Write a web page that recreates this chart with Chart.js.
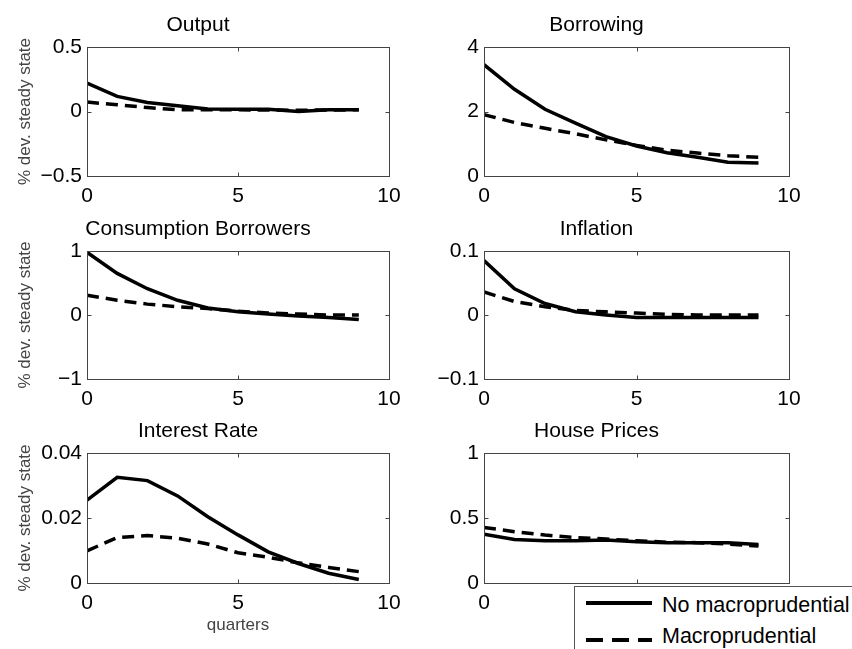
<!DOCTYPE html>
<html>
<head>
<meta charset="utf-8">
<script src="https://cdn.jsdelivr.net/npm/chart.js@4.4.0/dist/chart.umd.min.js"></script>
<style>
  body { margin: 0; background: #fff; width: 852px; height: 649px; overflow: hidden; position: relative;
         font-family: "Liberation Sans", Arial, sans-serif; }
  .panel { position: absolute; }
  #legend { position: absolute; left: 574px; top: 586px; width: 320px; height: 90px; background: #fff;
            border: 1px solid #555; z-index: 5; }
  #legend .sample { position: absolute; left: 11px; width: 66px; height: 4px; }
  #legend .solid { top: 14px; background: #000; }
  #legend .dashed { top: 51px; background: repeating-linear-gradient(to right, #000 0 17px, transparent 17px 26px); }
  #legend .txt { position: absolute; left: 87px; font-size: 21.5px; line-height: 22px; color: #000; white-space: nowrap; }
</style>
</head>
<body>
<div class="panel" style="left:7px;top:2px;width:412px;height:229px"><canvas id="outputChart"></canvas></div>
<div class="panel" style="left:404px;top:2px;width:415px;height:229px"><canvas id="borrowingChart"></canvas></div>
<div class="panel" style="left:7px;top:206px;width:412px;height:228px"><canvas id="consumptionChart"></canvas></div>
<div class="panel" style="left:404px;top:206px;width:415px;height:228px"><canvas id="inflationChart"></canvas></div>
<div class="panel" style="left:7px;top:408px;width:412px;height:230px"><canvas id="interestChart"></canvas></div>
<div class="panel" style="left:404px;top:408px;width:415px;height:230px"><canvas id="houseChart"></canvas></div>
<div id="legend">
  <div class="sample solid"></div><span class="txt" style="top:7px">No macroprudential</span>
  <div class="sample dashed"></div><span class="txt" style="top:38px">Macroprudential</span>
</div>
<script>
const quarters = [0, 1, 2, 3, 4, 5, 6, 7, 8, 9];
const xTicks = [0, 5, 10];

const outputNoMacro = [0.22, 0.117, 0.07, 0.044, 0.02, 0.018, 0.018, 0.0, 0.013, 0.013];
const outputMacro = [0.073, 0.052, 0.031, 0.013, 0.013, 0.013, 0.012, 0.01, 0.012, 0.013];
const outputTicks = [-0.5, 0, 0.5];

const borrowingNoMacro = [3.45, 2.69, 2.07, 1.64, 1.22, 0.93, 0.72, 0.58, 0.43, 0.4];
const borrowingMacro = [1.9, 1.66, 1.48, 1.31, 1.12, 0.95, 0.8, 0.71, 0.63, 0.58];
const borrowingTicks = [0, 2, 4];

const consumptionNoMacro = [0.98, 0.65, 0.41, 0.23, 0.11, 0.05, 0.015, -0.015, -0.04, -0.07];
const consumptionMacro = [0.31, 0.23, 0.17, 0.13, 0.1, 0.06, 0.03, 0.015, 0.0, 0.0];
const consumptionTicks = [-1, 0, 1];

const inflationNoMacro = [0.085, 0.041, 0.018, 0.005, 0.0, -0.004, -0.004, -0.004, -0.004, -0.004];
const inflationMacro = [0.036, 0.021, 0.013, 0.007, 0.005, 0.003, 0.001, 0.0, 0.0, 0.0];
const inflationTicks = [-0.1, 0, 0.1];

const interestNoMacro = [0.0255, 0.0325, 0.0315, 0.0268, 0.0204, 0.0148, 0.0096, 0.006, 0.003, 0.0011];
const interestMacro = [0.0099, 0.014, 0.0146, 0.0138, 0.012, 0.0093, 0.0079, 0.0062, 0.0048, 0.0035];
const interestTicks = [0, 0.02, 0.04];

const houseNoMacro = [0.376, 0.335, 0.325, 0.325, 0.33, 0.317, 0.31, 0.31, 0.31, 0.296];
const houseMacro = [0.428, 0.394, 0.369, 0.35, 0.338, 0.325, 0.314, 0.31, 0.3, 0.284];
const houseTicks = [0, 0.5, 1];

const fontFamily = '"Liberation Sans", Arial, sans-serif';

// matlab style box round the plot area, ticks pointing inwards
const boxPlugin = {
  id: 'box',
  afterDatasetsDraw(chart) {
    const { ctx, chartArea, scales } = chart;
    const l = Math.round(chartArea.left) + 0.5;
    const r = Math.round(chartArea.right) + 0.5;
    const t = Math.round(chartArea.top) + 0.5;
    const b = Math.round(chartArea.bottom) + 0.5;
    ctx.save();
    ctx.strokeStyle = '#444';
    ctx.lineWidth = 1;
    ctx.strokeRect(l, t, r - l, b - t);
    ctx.beginPath();
    scales.x.ticks.forEach(tk => {
      const px = Math.round(scales.x.getPixelForValue(tk.value)) + 0.5;
      ctx.moveTo(px, b); ctx.lineTo(px, b - 4);
      ctx.moveTo(px, t); ctx.lineTo(px, t + 4);
    });
    scales.y.ticks.forEach(tk => {
      const py = Math.round(scales.y.getPixelForValue(tk.value)) + 0.5;
      ctx.moveTo(l, py); ctx.lineTo(l + 4, py);
      ctx.moveTo(r, py); ctx.lineTo(r - 4, py);
    });
    ctx.stroke();
    ctx.restore();
  }
};

function toPoints(values) {
  return quarters.map((q, i) => ({ x: q, y: values[i] }));
}

function makePanel(id, title, noMacro, macro, yTicks, yLabel, xLabel) {
  new Chart(document.getElementById(id), {
    type: 'line',
    data: {
      datasets: [{
        label: 'No macroprudential',
        data: toPoints(noMacro),
        borderColor: '#000',
        borderWidth: 3.5,
        pointRadius: 0,
        tension: 0,
        order: 1
      }, {
        label: 'Macroprudential',
        data: toPoints(macro),
        borderColor: '#000',
        borderWidth: 3.5,
        borderDash: [12, 7],
        pointRadius: 0,
        tension: 0,
        order: 0
      }]
    },
    options: {
      responsive: true,
      maintainAspectRatio: false,
      animation: false,
      layout: { padding: { left: 0, right: 30, top: 0, bottom: 0 } },
      plugins: {
        legend: { display: false },
        tooltip: { enabled: false },
        title: {
          display: true,
          text: title,
          color: '#000',
          font: { family: fontFamily, size: 21, weight: 'normal', lineHeight: 1 },
          padding: { top: 13, bottom: 11 }
        }
      },
      scales: {
        x: {
          type: 'linear',
          min: xTicks[0],
          max: xTicks[xTicks.length - 1],
          afterBuildTicks: s => { s.ticks = xTicks.map(v => ({ value: v })); },
          afterFit: s => { s.height = 55; s.paddingLeft = 0; s.paddingRight = 0; },
          grid: { display: false, drawTicks: false },
          border: { display: false },
          ticks: { color: '#000', font: { family: fontFamily, size: 21 }, padding: 8, maxRotation: 0, autoSkip: false },
          title: {
            display: !!xLabel,
            text: xLabel || '',
            color: '#444',
            font: { family: fontFamily, size: 17 },
            padding: { top: 0, bottom: 2.8 }
          }
        },
        y: {
          min: yTicks[0],
          max: yTicks[yTicks.length - 1],
          afterBuildTicks: s => { s.ticks = yTicks.map(v => ({ value: v })); },
          afterFit: s => { s.width = 80; s.paddingTop = 0; s.paddingBottom = 0; },
          grid: { display: false, drawTicks: false },
          border: { display: false },
          ticks: {
            color: '#000',
            font: { family: fontFamily, size: 21 },
            padding: 5,
            autoSkip: false,
            callback: v => String(v).replace('-', '\u2212')
          },
          title: {
            display: !!yLabel,
            text: yLabel || '',
            color: '#444',
            font: { family: fontFamily, size: 17 },
            padding: { top: 7.8, bottom: 0 }
          }
        }
      }
    },
    plugins: [boxPlugin]
  });
}

makePanel('outputChart', 'Output', outputNoMacro, outputMacro, outputTicks, '% dev. steady state');
makePanel('borrowingChart', 'Borrowing', borrowingNoMacro, borrowingMacro, borrowingTicks);
makePanel('consumptionChart', 'Consumption Borrowers', consumptionNoMacro, consumptionMacro, consumptionTicks, '% dev. steady state');
makePanel('inflationChart', 'Inflation', inflationNoMacro, inflationMacro, inflationTicks);
makePanel('interestChart', 'Interest Rate', interestNoMacro, interestMacro, interestTicks, '% dev. steady state', 'quarters');
makePanel('houseChart', 'House Prices', houseNoMacro, houseMacro, houseTicks);
</script>
</body>
</html>
